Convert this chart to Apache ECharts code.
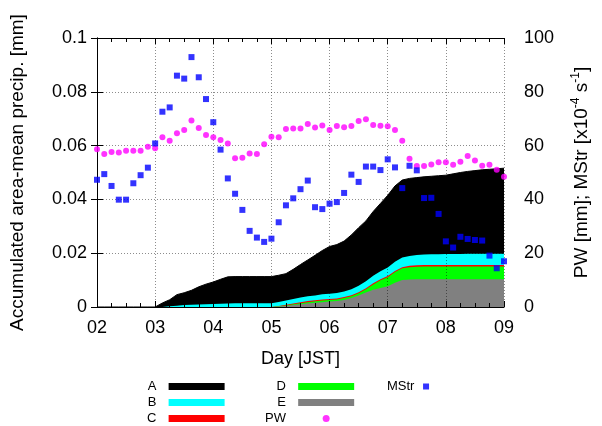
<!DOCTYPE html>
<html>
<head>
<meta charset="utf-8">
<script src="https://cdn.jsdelivr.net/npm/echarts@6/dist/echarts.min.js"></script>
<style>
  html, body { margin: 0; padding: 0; background: #fff; }
  #chart { width: 602px; height: 426px; }
</style>
</head>
<body>
<div id="chart"></div>
<script>
'use strict';

// time axis: one sample every 3 h, starting at day 02 00 JST
const stepHours = 3;
const dayLabels = ['02', '03', '04', '05', '06', '07', '08', '09'];
const leftTicks = ['0', '0.02', '0.04', '0.06', '0.08', '0.1'];
const rightTicks = ['0', '20', '40', '60', '80', '100'];

// accumulated area-mean precip. per category [mm] (drawn stacked E, D, C, B, A)
const precipA = [0, 0, 0, 0, 0, 0, 0, 0, 0,
  0.0015, 0.0024, 0.0041, 0.0046, 0.0054, 0.0066, 0.0075, 0.0082, 0.0091, 0.0099,
  0.0099, 0.0099, 0.0099, 0.0099, 0.0099, 0.0099, 0.0099,
  0.0100, 0.0110, 0.0123, 0.0135, 0.0149, 0.0163, 0.0176, 0.0180, 0.0187, 0.0202,
  0.0216, 0.0224, 0.0239, 0.0252, 0.0268, 0.0282, 0.0288, 0.0288, 0.0288, 0.0289,
  0.0290, 0.0292, 0.0293, 0.0298, 0.0303, 0.0306, 0.0309, 0.0312, 0.0314, 0.0316, 0.0318];
const precipB = [0, 0, 0, 0, 0, 0, 0, 0, 0, 0,
  0.0003, 0.0005, 0.0007, 0.0008, 0.0009, 0.0010, 0.0011, 0.0012, 0.0013,
  0.0014, 0.0014, 0.0014, 0.0014, 0.0014, 0.0014,
  0.0015, 0.0016, 0.0017, 0.0017, 0.0018, 0.0018, 0.0019, 0.0019, 0.0020, 0.0021,
  0.0022, 0.0024, 0.0026, 0.0028, 0.0030, 0.0032, 0.0034, 0.0036, 0.0037, 0.0038,
  0.0039, 0.0040, 0.0040, 0.0041, 0.0041, 0.0041, 0.0042, 0.0042, 0.0042, 0.0042, 0.0042, 0.0042];
const precipC = [0, 0, 0, 0, 0, 0, 0, 0, 0, 0, 0, 0, 0, 0, 0, 0, 0, 0, 0, 0, 0, 0, 0, 0, 0,
  0.0001, 0.0002, 0.0003,
  0.0004, 0.0004, 0.0004, 0.0004, 0.0004, 0.0004, 0.0004, 0.0004, 0.0004, 0.0004,
  0.0004, 0.0004, 0.0004, 0.0004, 0.0004,
  0.0005, 0.0005, 0.0005, 0.0005, 0.0005, 0.0005, 0.0005, 0.0005, 0.0005, 0.0005,
  0.0005, 0.0005, 0.0005, 0.0005];
const precipD = [0, 0, 0, 0, 0, 0, 0, 0, 0, 0, 0, 0, 0, 0, 0, 0, 0, 0, 0, 0, 0, 0, 0, 0, 0,
  0.0001, 0.0002, 0.0003, 0.0004, 0.0005, 0.0005, 0.0006, 0.0006, 0.0006, 0.0007,
  0.0007, 0.0008, 0.0012, 0.0020, 0.0028, 0.0034, 0.0040, 0.0044, 0.0046, 0.0047,
  0.0048, 0.0048, 0.0048, 0.0048, 0.0048, 0.0048, 0.0048, 0.0048, 0.0048, 0.0048, 0.0048, 0.0048];
const precipE = [0, 0, 0, 0, 0, 0, 0, 0, 0, 0, 0, 0, 0, 0, 0, 0, 0, 0, 0, 0, 0, 0, 0, 0, 0,
  0.0002, 0.0004, 0.0007, 0.0010, 0.0013, 0.0016, 0.0018, 0.0020, 0.0022, 0.0026,
  0.0033, 0.0043, 0.0054, 0.0064, 0.0071, 0.0077, 0.0090, 0.0100, 0.0102,
  0.0103, 0.0103, 0.0103, 0.0103, 0.0103, 0.0103, 0.0103, 0.0103, 0.0103, 0.0103,
  0.0103, 0.0103, 0.0103];

// right axis: precipitable water [mm] and MStr [x10^-4 s^-1]
const pw = [58.6, 56.9, 57.6, 57.4, 58.1, 58.1, 58.1, 59.6, 59.0, 63.1,
  61.8, 64.6, 65.8, 69.3, 66.5, 63.9, 63.1, 62.1, 60.8, 55.3,
  55.5, 57.1, 56.9, 60.5, 63.3, 63.1, 66.2, 66.4, 66.4, 68.0,
  66.7, 67.5, 65.8, 67.3, 66.8, 67.3, 69.1, 69.8, 67.7, 67.4,
  67.2, 65.8, 61.8, 55.1, 52.4, 52.4, 53.0, 53.8, 53.8, 52.9,
  54.0, 56.1, 54.5, 52.5, 52.9, 51.0, 48.4];
const mstr = [47.3, 49.4, 45.0, 39.9, 39.9, 46.0, 49.0, 51.8, 60.8, 72.6,
  74.2, 86.0, 84.9, 92.9, 85.4, 77.3, 68.7, 58.5, 47.8, 42.1,
  36.1, 28.3, 25.8, 24.2, 25.4, 31.5, 37.8, 40.4, 43.8, 47.0,
  37.1, 36.4, 38.4, 39.0, 42.4, 49.2, 46.5, 52.2, 52.2, 50.9,
  54.9, 51.9, 44.2, 52.5, 50.8, 40.5, 40.6, 34.6, 24.4, 22.1,
  26.1, 25.3, 24.9, 24.7, 19.1, 14.4, 17.0];

const FONT = 'Liberation Sans';

function toXY(values) {
  return values.map((v, i) => [i * stepHours, v]);
}

// running stack: each band is filled from zero up to its cumulative top,
// the taller ones first so the lower ones paint over them
function addUp(...arrays) {
  return arrays[0].map((_, i) => arrays.reduce((s, a) => s + a[i], 0));
}
const topE = precipE;
const topD = addUp(precipE, precipD);
const topC = addUp(precipE, precipD, precipC);
const topB = addUp(precipE, precipD, precipC, precipB);
const topA = addUp(precipE, precipD, precipC, precipB, precipA);

function areaSeries(name, values, color, lineWidth) {
  return {
    name, type: 'line', data: toXY(values),
    color, symbol: 'none', showSymbol: false, smooth: false,
    lineStyle: { width: lineWidth, color }, areaStyle: { color, opacity: 1, origin: 'start' },
    itemStyle: { color }, z: 2, silent: true,
  };
}

const tickStyle = { color: '#000', width: 1 };
const gridLine = { show: true, lineStyle: { color: 'rgba(0,0,0,0.45)', width: 1, type: [1, 2] } };

function xAxisOpt(top) {
  return {
    type: 'value', min: 0, max: 168, interval: 24, position: top ? 'top' : 'bottom', z: 3,
    axisLine: { show: true, onZero: false, lineStyle: tickStyle },
    axisTick: { show: true, inside: true, length: 6, lineStyle: tickStyle },
    minorTick: { show: true, splitNumber: 4, length: 4, lineStyle: tickStyle },
    axisLabel: {
      show: !top, margin: 12, color: '#000', fontFamily: FONT, fontSize: 18,
      formatter: (v) => dayLabels[Math.round(v / 24)],
    },
    splitLine: top ? { show: false } : gridLine,
    name: top ? '' : 'Day [JST]', nameLocation: 'middle', nameGap: 43,
    nameTextStyle: { color: '#000', fontFamily: FONT, fontSize: 18 },
  };
}

const legendBase = {
  orient: 'vertical', align: 'right', top: 380, padding: 0,
  itemWidth: 56, itemHeight: 7, itemGap: 3, selectedMode: false,
  itemStyle: { borderWidth: 0 },
  textStyle: { color: '#000', fontFamily: FONT, fontSize: 13 },
};

const chart = echarts.init(document.getElementById('chart'), null, { renderer: 'canvas' });
chart.setOption({
  animation: false,
  backgroundColor: '#fff',
  grid: { left: 97, right: 95, top: 38, bottom: 119 },
  legend: [
    Object.assign({}, legendBase, {
      data: [{ name: 'A', icon: 'rect' }, { name: 'B', icon: 'rect' }, { name: 'C', icon: 'rect' }],
      left: 147, formatter: (n) => n + '  ',
    }),
    Object.assign({}, legendBase, {
      data: [{ name: 'D', icon: 'rect' }, { name: 'E', icon: 'rect' }, { name: 'PW', icon: 'circle' }],
      left: 265, formatter: (n) => n + '  ',
    }),
    Object.assign({}, legendBase, {
      data: [{ name: 'MStr', icon: 'rect' }],
      left: 387, itemWidth: 6, itemHeight: 6, formatter: (n) => n + ' ',
    }),
  ],
  xAxis: [xAxisOpt(false), xAxisOpt(true)],
  yAxis: [
    {
      type: 'value', min: 0, max: 0.1, interval: 0.02, position: 'left', z: 3,
      axisLine: { show: true, lineStyle: tickStyle },
      axisTick: { show: true, inside: true, length: 6, lineStyle: tickStyle },
      axisLabel: {
        margin: 10, color: '#000', fontFamily: FONT, fontSize: 18,
        formatter: (v) => leftTicks[Math.round(v / 0.02)],
      },
      splitLine: gridLine,
      name: 'Accumulated area-mean precip. [mm]', nameLocation: 'middle', nameGap: 70, nameRotate: 90,
      nameTextStyle: { color: '#000', fontFamily: FONT, fontSize: 19 },
    },
    {
      type: 'value', min: 0, max: 100, interval: 20, position: 'right', z: 3,
      axisLine: { show: true, lineStyle: tickStyle },
      axisTick: { show: true, inside: true, length: 6, lineStyle: tickStyle },
      axisLabel: {
        margin: 20, color: '#000', fontFamily: FONT, fontSize: 18,
        formatter: (v) => rightTicks[Math.round(v / 20)],
      },
      splitLine: { show: false },
      name: 'PW [mm]; MStr [x10{sup|-4} s{sup|-1}]', nameLocation: 'middle', nameGap: 66, nameRotate: 90,
      nameTextStyle: {
        color: '#000', fontFamily: FONT, fontSize: 19, lineHeight: 24,
        rich: { sup: { fontFamily: FONT, fontSize: 12, color: '#000', verticalAlign: 'top', lineHeight: 24 } },
      },
    },
  ],
  series: [
    areaSeries('A', topA, '#000000', 1),
    areaSeries('B', topB, '#00ffff', 0),
    areaSeries('C', topC, '#ff0000', 0),
    areaSeries('D', topD, '#00ff00', 0),
    areaSeries('E', topE, '#808080', 0),
    {
      name: 'PW', type: 'scatter', yAxisIndex: 1, data: toXY(pw), z: 4,
      symbol: 'circle', symbolSize: 6, itemStyle: { color: '#ff00ff' }, silent: true,
    },
    {
      name: 'MStr', type: 'scatter', yAxisIndex: 1, data: toXY(mstr), z: 4,
      symbol: 'rect', symbolSize: 6, itemStyle: { color: '#0000ff' }, silent: true,
    },
  ],
});
</script>
</body>
</html>
